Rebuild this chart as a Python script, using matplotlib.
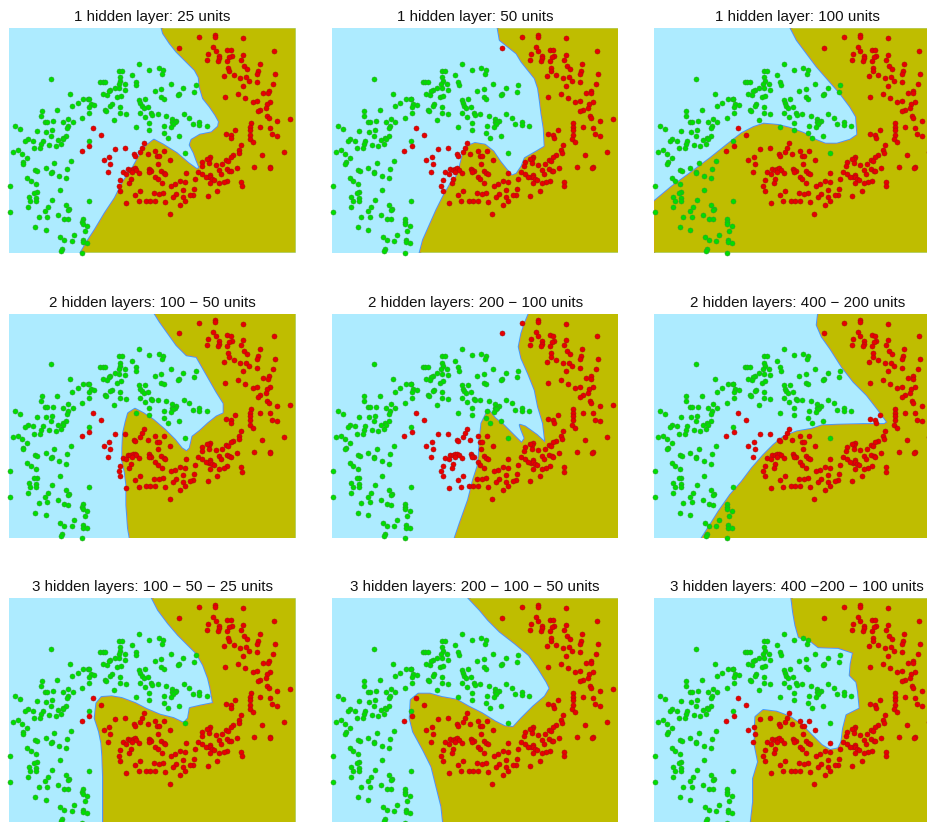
import numpy as np
import matplotlib
matplotlib.use('Agg')
import matplotlib.pyplot as plt

X_RANGE = (28, 887)
Y_RANGE = (758, 85)

TITLES = [
    '1 hidden layer: 25 units', '1 hidden layer: 50 units', '1 hidden layer: 100 units',
    '2 hidden layers: 100 \u2212 50 units', '2 hidden layers: 200 \u2212 100 units', '2 hidden layers: 400 \u2212 200 units',
    '3 hidden layers: 100 \u2212 50 \u2212 25 units', '3 hidden layers: 200 \u2212 100 \u2212 50 units',
    '3 hidden layers: 400 \u2212200 \u2212 100 units',
]

GREEN_POINTS = [
    (153,237),(417,191),(357,212),(366,213),(447,209),(476,205),(490,211),(487,221),(396,226),(301,246),
    (308,246),(316,245),(359,232),(361,243),(374,251),(356,251),(407,245),(408,256),(344,263),(358,265),
    (375,269),(331,271),(326,274),(512,252),(549,264),(464,273),(483,267),(587,256),(582,276),(538,281),
    (534,285),(211,281),(322,284),(309,281),(250,296),(265,296),(266,297),(351,292),(362,288),(417,300),
    (436,298),(484,292),(491,296),(233,309),(217,319),(272,312),(282,314),(267,320),(335,313),(331,318),
    (359,320),(421,310),(425,318),(431,323),(445,320),(125,332),(172,331),(267,338),(316,329),(319,333),
    (359,338),(377,341),(419,339),(123,347),(247,353),(342,359),(434,351),(453,340),(457,344),(473,343),
    (498,347),(551,343),(567,353),(204,357),(159,364),(136,366),(141,366),(189,367),(218,367),(203,378),
    (517,357),(528,362),(516,367),(524,367),(520,372),(447,369),(598,367),(597,376),(578,373),(620,377),
    (407,382),(492,377),(514,381),(45,378),(61,386),(110,394),(156,391),(139,395),(200,385),(447,389),
    (491,398),(153,407),(198,407),(188,414),(174,420),(190,418),(184,432),(83,418),(75,424),(98,423),
    (128,423),(124,433),(148,434),(120,445),(102,445),(167,437),(503,414),(536,407),(266,424),(54,451),
    (39,456),(66,462),(82,474),(70,487),(68,492),(213,482),(163,490),(137,503),(105,509),(111,512),
    (155,515),(153,518),(201,507),(177,527),(199,535),(81,533),(92,543),(107,552),(30,558),(179,571),
    (555,458),(110,577),(103,579),(86,592),(91,604),(108,595),(108,604),(157,600),(266,604),(85,622),
    (145,622),(136,634),(198,615),(207,627),(205,629),(31,636),(175,644),(116,652),(141,650),(193,656),
    (205,658),(248,657),(247,665),(248,671),(261,677),(106,682),(137,690),(254,693),(222,705),(181,712),
    (193,721),(215,723),(250,720),(249,727),(262,729),(187,746),(183,752),(247,758),
]

RED_POINTS = [
    (537,143),(597,112),(645,105),(645,110),(730,115),(640,141),(647,152),(624,161),(622,179),(657,168),
    (657,175),(654,182),(682,150),(692,151),(695,167),(688,170),(681,182),(729,164),(724,179),(823,152),
    (779,191),(684,203),(686,214),(733,198),(741,207),(775,213),(772,221),(826,221),(672,229),(701,224),
    (721,233),(738,232),(748,243),(772,247),(819,252),(729,257),(806,272),(789,279),(805,280),(714,283),
    (676,292),(736,295),(758,307),(772,304),(810,306),(800,312),(797,324),(781,330),(773,334),(801,348),
    (806,353),(752,370),(831,363),(870,358),(780,382),(750,382),(810,384),(706,389),(677,401),(692,404),
    (694,413),(750,391),(750,405),(749,418),(758,427),(816,403),(832,407),(279,383),(303,404),(267,439),
    (245,452),(346,446),(375,445),(433,430),(427,443),(421,455),(402,463),(405,468),(443,463),(466,452),
    (472,469),(478,469),(493,453),(722,436),(716,451),(718,460),(700,466),(786,465),(852,455),(692,470),
    (328,470),(311,481),(330,492),(475,491),(510,481),(631,472),(627,478),(621,477),(607,486),(605,497),
    (627,490),(678,480),(685,483),(666,491),(647,494),(710,503),(680,508),(762,501),(810,501),(809,503),
    (325,515),(383,508),(390,510),(398,506),(404,505),(408,509),(396,515),(368,517),(378,522),(418,519),
    (446,507),(449,511),(454,514),(447,516),(483,512),(491,519),(495,522),(466,530),(473,538),(557,520),
    (594,516),(607,521),(658,511),(688,512),(664,521),(692,514),(630,525),(626,532),(631,530),(637,537),
    (617,530),(586,538),(392,536),(388,549),(556,547),(541,544),(525,553),(513,558),(485,548),(643,540),
    (631,550),(682,542),(671,547),(657,550),(723,546),(725,559),(356,557),(361,572),(361,541),(421,573),
    (405,585),(550,570),(582,566),(528,581),(580,585),(570,586),(519,590),(490,578),(478,582),(463,580),
    (652,572),(623,587),(550,591),(556,602),(379,609),(416,604),(438,603),(450,603),(466,603),(495,605),
    (540,614),(509,641),
]

# Decision boundary of each panel, from the top edge round to the bottom edge
BOUNDARY_1 = [(486,85),(490,100),(510,130),(530,155),(560,185),(585,210),(597,232),(600,262),(610,295),(630,320),
              (647,345),(658,365),(655,380),(635,398),(600,405),(575,420),(570,435),(582,458),(590,480),(600,505),
              (590,508),(565,490),(530,460),(490,435),(462,420),(440,437),(420,465),(395,510),(370,545),(345,595),
              (315,640),(285,690),(262,725),(243,758)]
BOUNDARY_2 = [(526,85),(532,120),(557,140),(582,160),(597,185),(617,210),(637,235),(647,265),(652,300),(657,340),
              (664,385),(667,440),(642,455),(607,475),(597,500),(582,522),(567,528),(552,510),(532,485),(512,455),
              (487,435),(457,430),(437,438),(422,460),(412,500),(402,530),(382,555),(362,590),(342,630),(322,675),
              (302,720),(292,758)]
BOUNDARY_3 = [(439,85),(457,120),(487,160),(517,200),(552,240),(587,280),(617,320),(635,350),(639,405),(617,420),
              (577,432),(542,432),(512,420),(477,400),(437,385),(402,376),(357,372),(327,382),(292,400),(247,435),
              (197,475),(137,520),(82,560),(28,605),(28,758)]
BOUNDARY_4 = [(465,85),(480,109),(505,144),(530,179),(560,209),(590,214),(610,249),(630,284),(650,319),(672,354),
              (672,384),(650,394),(625,414),(600,437),(578,454),(570,489),(560,499),(545,489),(525,464),(495,434),
              (460,404),(430,384),(405,371),(385,384),(378,409),(370,444),(368,489),(368,529),(375,559),(380,599),
              (380,659),(385,729),(390,758)]
BOUNDARY_5 = [(619,85),(607,114),(597,144),(589,184),(597,219),(617,264),(637,314),(647,364),(662,414),(669,474),
              (642,449),(607,424),(592,419),(597,434),(607,459),(597,474),(567,444),(542,419),(517,399),(497,374),
              (477,414),(472,464),(469,514),(465,544),(452,584),(437,644),(412,714),(397,758)]
BOUNDARY_6 = [(521,85),(517,119),(532,154),(557,189),(592,244),(627,289),(667,329),(702,374),(729,411),(719,417),
              (657,417),(577,419),(532,421),(502,431),(457,439),(417,454),(387,479),(357,509),(322,549),(292,589),
              (257,629),(222,679),(197,719),(172,758)]
BOUNDARY_7 = [(457,85),(475,120),(505,160),(535,195),(565,225),(590,250),(610,285),(625,325),(632,355),(640,400),
              (600,408),(570,415),(565,445),(552,460),(520,445),(480,435),(440,418),(405,400),(365,385),(335,380),
              (305,382),(290,400),(285,445),(298,485),(305,520),(308,560),(310,620),(310,758)]
BOUNDARY_8 = [(439,85),(472,120),(497,150),(532,185),(577,220),(619,255),(647,295),(672,335),(682,355),(667,380),
              (632,410),(597,445),(572,472),(547,470),(517,455),(477,430),(437,410),(402,390),(357,382),(322,372),
              (287,372),(265,390),(262,445),(272,485),(302,540),(327,590),(342,650),(357,710),(362,758)]
BOUNDARY_9 = [(441,85),(446,126),(453,166),(463,201),(496,211),(521,231),(581,233),(626,248),(619,281),(616,316),
              (636,336),(641,366),(646,416),(606,436),(596,476),(591,516),(581,536),(556,541),(531,526),(501,496),
              (471,466),(436,441),(396,426),(356,421),(333,441),(331,476),(331,526),(341,576),(326,626),(326,696),
              (319,758)]
BOUNDARIES = [BOUNDARY_1, BOUNDARY_2, BOUNDARY_3, BOUNDARY_4, BOUNDARY_5,
              BOUNDARY_6, BOUNDARY_7, BOUNDARY_8, BOUNDARY_9]


def plot_panels():
    width, height = 927, 822
    fig = plt.figure(figsize=(width / 100, height / 100), dpi=100)

    lefts = [9.3, 332, 654]
    tops = [28.3, 313.7, 598.3]
    panel_w, panel_h = 286.3, 224.3

    green = np.array(GREEN_POINTS)
    red = np.array(RED_POINTS)

    for i, (title, boundary) in enumerate(zip(TITLES, BOUNDARIES)):
        left = lefts[i % 3]
        top = tops[i // 3]
        ax = fig.add_axes([left / width, 1 - (top + panel_h) / height,
                           panel_w / width, panel_h / height])
        ax.set_facecolor('#ADEBFF')

        # olive region closes round the right hand side of the panel
        bx, by = zip(*boundary)
        ax.fill(list(bx) + [X_RANGE[1], X_RANGE[1]], list(by) + [Y_RANGE[0], Y_RANGE[1]],
                color='#BFBD00', linewidth=0, zorder=2)
        ax.plot(bx, by, color='#3D9BFF', linewidth=1.8, zorder=1)
        ax.plot(bx, by, color='#E8961E', linewidth=0.5, zorder=2.5)

        ax.scatter(green[:, 0], green[:, 1], s=13, color='#00DF00', edgecolors='#2E9E2E',
                   linewidths=0.4, zorder=3, clip_on=False)
        ax.scatter(red[:, 0], red[:, 1], s=13, color='#E80000', edgecolors='#A81010',
                   linewidths=0.4, zorder=3, clip_on=False)

        ax.set_xlim(*X_RANGE)
        ax.set_ylim(*Y_RANGE)
        ax.set_xticks([])
        ax.set_yticks([])
        for spine in ax.spines.values():
            spine.set_visible(False)
        ax.set_title(title, fontsize=10.9, family='Liberation Sans', color='#111111', pad=5)

    fig.savefig('out.png', dpi=100)


if __name__ == '__main__':
    plot_panels()
